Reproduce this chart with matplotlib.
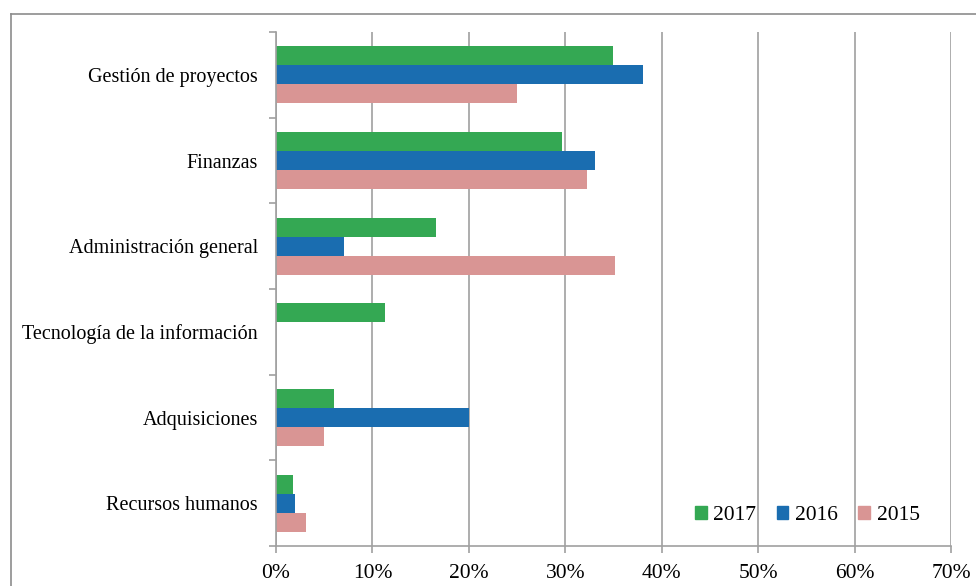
import matplotlib.pyplot as plt
import matplotlib.patches as mpatches
from matplotlib.lines import Line2D
from matplotlib.ticker import FixedLocator, PercentFormatter
import numpy as np

plt.rcParams["font.family"] = ["Liberation Serif", "DejaVu Serif"]

categories = ["Gestión de proyectos", "Finanzas", "Administración general",
              "Tecnología de la información", "Adquisiciones", "Recursos humanos"]
v2017 = [34.9, 29.7, 16.6, 11.3, 6.0, 1.8]
v2016 = [38.1, 33.1, 7.0, 0.0, 20.0, 2.0]
v2015 = [25.0, 32.2, 35.2, 0.0, 5.0, 3.1]
years = ["2017", "2016", "2015"]

C2017 = "#34a853"
C2016 = "#1a6db0"
C2015 = "#d99594"
GRID = "#a0a0a0"

fig = plt.figure(figsize=(9.76, 5.86), dpi=100)
ax = fig.add_axes([276/976, 40/586, 675/976, 514/586])

# outer chart frame (top and left edges visible)
fig.add_artist(Line2D([11/976, 11/976], [0, 1 - 14/586], transform=fig.transFigure,
                      color="#8c8c8c", lw=1.2))
fig.add_artist(Line2D([11/976, 1], [1 - 14/586, 1 - 14/586], transform=fig.transFigure,
                      color="#8c8c8c", lw=1.2))

y = np.arange(len(categories))
h = 0.222
ax.barh(y - h, v2017, h, color=C2017, label="2017")
ax.barh(y, v2016, h, color=C2016, label="2016")
ax.barh(y + h, v2015, h, color=C2015, label="2015")

ax.set_ylim(len(categories) - 0.5, -0.5)
ax.set_xlim(0, 70)
ax.set_xticks(np.arange(0, 71, 10))
ax.xaxis.set_major_formatter(PercentFormatter(decimals=0))
ax.set_yticks(y)
ax.set_yticklabels(categories)
ax.yaxis.set_minor_locator(FixedLocator(np.arange(-0.5, len(categories), 1)))
ax.tick_params(axis="y", which="major", length=0, pad=13, labelsize=14.5)
ax.tick_params(axis="y", which="minor", length=5, color=GRID, width=1.2)
ax.tick_params(axis="x", which="major", length=5, color=GRID, width=1.2, labelsize=15.5, pad=8)

ax.grid(axis="x", color=GRID, lw=1.2)
ax.set_axisbelow(True)
for s in ["top", "right"]:
    ax.spines[s].set_visible(False)
for s in ["left", "bottom"]:
    ax.spines[s].set_color(GRID)
    ax.spines[s].set_linewidth(1.2)

handles = [mpatches.Patch(color=c, label=l) for c, l in zip([C2017, C2016, C2015], years)]
ax.legend(handles=handles, loc="center", bbox_to_anchor=(0.787, 0.06), ncol=3,
          frameon=False, fontsize=15.5, handlelength=0.55, handleheight=0.55,
          handletextpad=0.3, columnspacing=0.95)

fig.savefig("out.png", dpi=100)
